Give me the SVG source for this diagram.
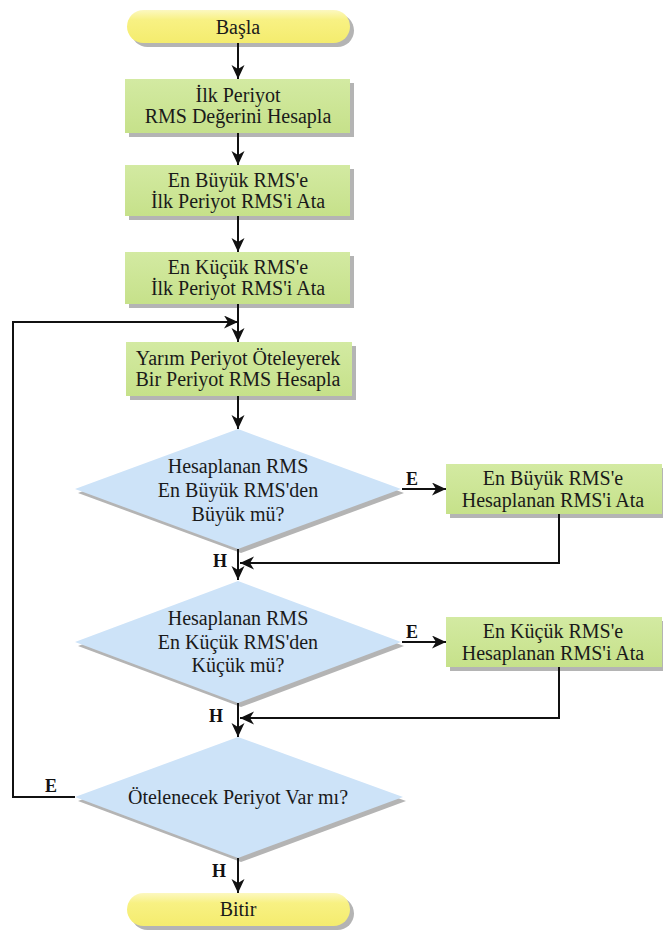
<svg xmlns="http://www.w3.org/2000/svg" width="665" height="931" viewBox="0 0 665 931">
<style>
.t{font-family:"Liberation Serif","Times New Roman",serif;font-size:20px;fill:#1a1a1a;text-anchor:middle}
.l{font-family:"Liberation Serif","Times New Roman",serif;font-size:18px;font-weight:bold;fill:#111;text-anchor:middle}
.sh{fill:#b4b4b4}
.term{fill:url(#gy)}
.proc{fill:url(#gg)}
.dec{fill:#cde3f8}
.c{fill:none;stroke:#111;stroke-width:2}
</style>
<defs>
<linearGradient id="gy" x1="0" y1="0" x2="0" y2="1">
<stop offset="0" stop-color="#fcf8c0"/><stop offset="0.3" stop-color="#f8f183"/><stop offset="1" stop-color="#f4ec6e"/>
</linearGradient>
<linearGradient id="gg" x1="0" y1="0" x2="0" y2="1">
<stop offset="0" stop-color="#d3eaa2"/><stop offset="1" stop-color="#c6e18a"/>
</linearGradient>
<marker id="ah" markerUnits="userSpaceOnUse" markerWidth="16" markerHeight="14" refX="14" refY="6.5" orient="auto">
<path d="M0,0 L14,6.5 L0,13 L4,6.5 z" fill="#111"/>
</marker>
</defs>

<g id="start">
<rect class="sh" x="131" y="14" width="223" height="33" rx="16.5"/>
<rect class="term" x="127" y="10" width="223" height="33" rx="16.5"/>
<text class="t" x="238" y="34">Başla</text>
</g>

<g id="p1">
<rect class="sh" x="129" y="83" width="225" height="54"/>
<rect class="proc" x="125" y="79" width="225" height="54"/>
<text class="t" x="238" y="102">İlk Periyot</text>
<text class="t" x="238" y="123">RMS Değerini Hesapla</text>
</g>

<g id="p2">
<rect class="sh" x="129" y="169" width="225" height="51"/>
<rect class="proc" x="125" y="165" width="225" height="51"/>
<text class="t" x="238" y="187">En Büyük RMS'e</text>
<text class="t" x="238" y="208">İlk Periyot RMS'i Ata</text>
</g>

<g id="p3">
<rect class="sh" x="129" y="256" width="225" height="52"/>
<rect class="proc" x="125" y="252" width="225" height="52"/>
<text class="t" x="238" y="274">En Küçük RMS'e</text>
<text class="t" x="238" y="295">İlk Periyot RMS'i Ata</text>
</g>

<g id="p4">
<rect class="sh" x="130" y="346" width="226" height="54"/>
<rect class="proc" x="126" y="342" width="226" height="54"/>
<text class="t" x="238" y="365">Yarım Periyot Öteleyerek</text>
<text class="t" x="238" y="386">Bir Periyot RMS Hesapla</text>
</g>

<g id="d1">
<polygon class="sh" points="241,433 404,493 241,553 78,493"/>
<polygon class="dec" points="238,429 401,489 238,549 75,489"/>
<text class="t" x="238" y="473">Hesaplanan RMS</text>
<text class="t" x="238" y="497">En Büyük RMS'den</text>
<text class="t" x="238" y="521">Büyük mü?</text>
</g>

<g id="p5">
<rect class="sh" x="450" y="468" width="213" height="50"/>
<rect class="proc" x="446" y="464" width="216" height="50"/>
<text class="t" x="553" y="485">En Büyük RMS'e</text>
<text class="t" x="553" y="507">Hesaplanan RMS'i Ata</text>
</g>

<g id="d2">
<polygon class="sh" points="241,585 404,646 241,707 78,646"/>
<polygon class="dec" points="238,581 401,642 238,703 75,642"/>
<text class="t" x="238" y="625">Hesaplanan RMS</text>
<text class="t" x="238" y="649">En Küçük RMS'den</text>
<text class="t" x="238" y="672">Küçük mü?</text>
</g>

<g id="p6">
<rect class="sh" x="450" y="621" width="213" height="50"/>
<rect class="proc" x="446" y="617" width="216" height="50"/>
<text class="t" x="553" y="638">En Küçük RMS'e</text>
<text class="t" x="553" y="660">Hesaplanan RMS'i Ata</text>
</g>

<g id="d3">
<polygon class="sh" points="241,741 406,801 241,862 78,801"/>
<polygon class="dec" points="238,737 403,797 238,858 75,797"/>
<text class="t" x="238" y="804">Ötelenecek Periyot Var mı?</text>
</g>

<g id="end">
<rect class="sh" x="131" y="897" width="223" height="33" rx="16.5"/>
<rect class="term" x="127" y="893" width="223" height="33" rx="16.5"/>
<text class="t" x="238" y="916">Bitir</text>
</g>

<g id="connectors">
<line class="c" x1="238" y1="43" x2="238" y2="79" marker-end="url(#ah)"/>
<line class="c" x1="238" y1="133" x2="238" y2="165" marker-end="url(#ah)"/>
<line class="c" x1="238" y1="216" x2="238" y2="252" marker-end="url(#ah)"/>
<line class="c" x1="238" y1="304" x2="238" y2="342" marker-end="url(#ah)"/>
<polyline class="c" points="75,797 13,797 13,322 238,322" marker-end="url(#ah)"/>
<line class="c" x1="238" y1="396" x2="238" y2="429" marker-end="url(#ah)"/>
<line class="c" x1="402" y1="489" x2="446" y2="489" marker-end="url(#ah)"/>
<polyline class="c" points="559,514 559,563 240,563" marker-end="url(#ah)"/>
<line class="c" x1="238" y1="549" x2="238" y2="580" marker-end="url(#ah)"/>
<line class="c" x1="402" y1="642" x2="446" y2="642" marker-end="url(#ah)"/>
<polyline class="c" points="559,667 559,718 240,718" marker-end="url(#ah)"/>
<line class="c" x1="238" y1="703" x2="238" y2="737" marker-end="url(#ah)"/>
<line class="c" x1="238" y1="858" x2="238" y2="893" marker-end="url(#ah)"/>
<text class="l" x="412" y="485">E</text>
<text class="l" x="412" y="638">E</text>
<text class="l" x="51" y="792">E</text>
<text class="l" x="220" y="567">H</text>
<text class="l" x="216" y="722">H</text>
<text class="l" x="219" y="877">H</text>
</g>
</svg>
